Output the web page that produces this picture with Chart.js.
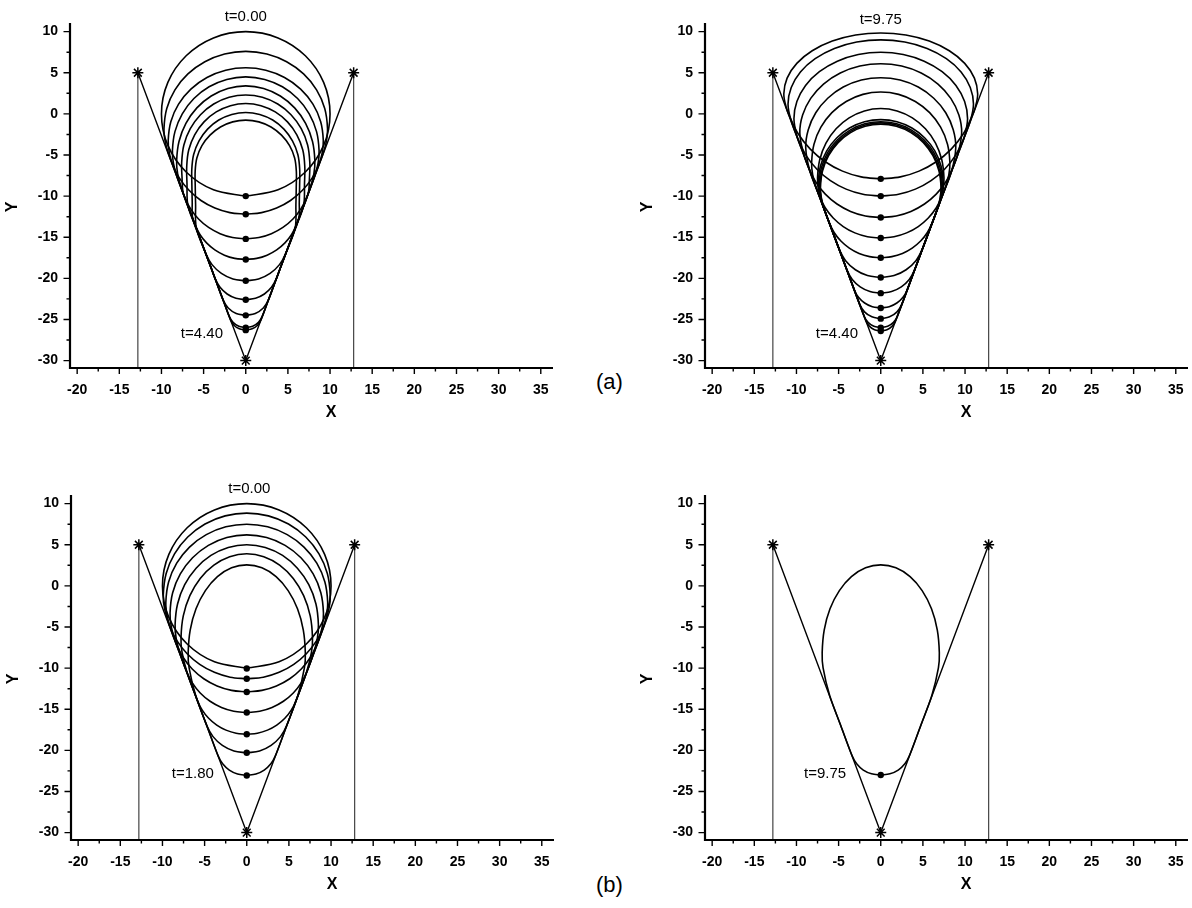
<!DOCTYPE html>
<html>
<head>
<meta charset="utf-8">
<script src="https://cdn.jsdelivr.net/npm/chart.js@4.4.0/dist/chart.umd.min.js"></script>
<style>
  body { margin: 0; width: 1192px; height: 908px; background: #fff; position: relative; overflow: hidden;
         font-family: "Liberation Sans", Arial, sans-serif; }
  canvas { position: absolute; }
  .tag { position: absolute; font-size: 22px; color: #000; }
</style>
</head>
<body>
<canvas id="c1" width="568" height="427" style="left:0px;top:1px"></canvas>
<canvas id="c2" width="568" height="427" style="left:635px;top:1px"></canvas>
<canvas id="c3" width="568" height="427" style="left:1px;top:473px"></canvas>
<canvas id="c4" width="568" height="427" style="left:635px;top:473px"></canvas>
<div class="tag" style="left:596px;top:369px">(a)</div>
<div class="tag" style="left:596px;top:872px">(b)</div>
<script>
// axis ranges (same for all four panels)
const xMin = -20.85, xMax = 36.45;
const yMin = -30.9, yMax = 11.05;

// funnel walls and the three marked corners
const postX = [-12.8, -12.8, null, 12.8, 12.8];
const postY = [yMin, 5, null, 5, yMin];
const funnelX = [-12.8, 0, 12.8];
const funnelY = [5, -30, 5];
const starX = [-12.8, 12.8, 0];
const starY = [5, 5, -30];

// loop shapes, right half only (x >= 0), top point first, bottom point last
// (a) left: t = 0.00 ... 4.40
const loopsA1 = [
  [[0,10],[3.83,9.24],[7.07,7.07],[9.24,3.83],[10,0],[9.24,-3.83],[7.07,-7.07],[3.83,-9.24],[0,-10]],
  [[0,7.6],[2.51,7.28],[4.85,6.34],[6.86,4.86],[8.4,2.92],[9.37,0.66],[9.7,-1.77],[9.55,-3.4],[9.15,-4.88],[8.69,-6.11],[7.87,-7.81],[6.73,-9.29],[5.31,-10.53],[3.66,-11.45],[1.88,-12.01],[0,-12.2]],
  [[0,5.6],[2.38,5.3],[4.6,4.42],[6.51,3.01],[7.97,1.18],[8.89,-0.95],[9.2,-3.24],[9.06,-4.77],[8.68,-6.16],[7.95,-8.15],[7.23,-10.14],[6.54,-11.55],[5.6,-12.78],[4.41,-13.81],[3.04,-14.57],[1.56,-15.04],[0,-15.2]],
  [[0,4.5],[2.25,4.19],[4.35,3.3],[6.15,1.87],[7.53,0.01],[8.4,-2.16],[8.7,-4.49],[8.57,-6.05],[8.15,-7.66],[7.08,-10.58],[6.0,-13.5],[5.44,-14.67],[4.65,-15.69],[3.67,-16.54],[2.53,-17.18],[1.3,-17.57],[0,-17.7]],
  [[0,3.4],[2.12,3.09],[4.1,2.18],[5.8,0.73],[7.1,-1.16],[7.92,-3.36],[8.2,-5.72],[8.08,-7.3],[7.6,-9.14],[6.65,-11.75],[5.7,-14.35],[4.74,-16.98],[4.0,-18.33],[2.89,-19.39],[1.52,-20.07],[0,-20.3]],
  [[0,2.3],[1.97,2.02],[3.8,1.2],[5.37,-0.1],[6.58,-1.8],[7.34,-3.78],[7.6,-5.9],[7.56,-7.7],[7.4,-9.7],[6.3,-12.7],[5.2,-15.73],[4.1,-18.75],[3.62,-20.07],[3.05,-21.09],[2.21,-21.9],[1.16,-22.42],[0,-22.6]],
  [[0,1.26],[1.81,1.0],[3.5,0.24],[4.95,-0.97],[6.06,-2.54],[6.76,-4.37],[7.0,-6.34],[6.97,-8.5],[6.85,-11.2],[5.75,-14.22],[4.65,-17.24],[3.55,-20.25],[2.69,-22.62],[2.08,-23.6],[1.13,-24.27],[0,-24.5]],
  [[0,0.17],[1.66,-0.07],[3.2,-0.75],[4.53,-1.85],[5.54,-3.28],[6.18,-4.94],[6.4,-6.73],[6.39,-8.7],[6.35,-10.7],[6.28,-12.75],[5.2,-15.73],[4.1,-18.75],[3.0,-21.76],[1.95,-24.63],[1.51,-25.35],[0.82,-25.83],[0,-26.0]],
  [[0,-0.76],[1.55,-0.97],[3.0,-1.59],[4.24,-2.58],[5.2,-3.86],[5.8,-5.36],[6.0,-6.96],[5.99,-9.0],[5.95,-11.0],[5.86,-13.9],[4.7,-17.1],[3.55,-20.25],[2.55,-23.0],[1.81,-25.04],[1.4,-25.7],[0.76,-26.14],[0,-26.3]]
];
const dotsA1 = [-10, -12.2, -15.2, -17.7, -20.3, -22.6, -24.5, -26.0, -26.3];

// (a) right: t = 4.40 ... 9.75
const loopsA2 = [
  [[0,9.84],[2.98,9.59],[5.75,8.85],[8.13,7.67],[9.96,6.14],[11.11,4.35],[11.5,2.43],[11.2,0.74],[10.8,-0.34],[9.78,-2.45],[8.36,-4.29],[6.59,-5.82],[4.54,-6.96],[2.33,-7.66],[0,-7.9]],
  [[0,9.0],[2.85,8.73],[5.5,7.95],[7.78,6.71],[9.53,5.1],[10.62,3.21],[11.0,1.19],[10.65,-0.77],[9.77,-3.16],[8.85,-5.07],[7.57,-6.73],[5.97,-8.12],[4.11,-9.15],[2.11,-9.78],[0,-10.0]],
  [[0,7.5],[2.67,7.22],[5.15,6.41],[7.28,5.13],[8.92,3.46],[9.95,1.5],[10.3,-0.59],[9.91,-2.82],[9.2,-4.75],[8.5,-6.65],[7.69,-8.31],[6.58,-9.76],[5.19,-10.96],[3.58,-11.86],[1.83,-12.41],[0,-12.6]],
  [[0,6.1],[2.48,5.81],[4.8,4.97],[6.79,3.63],[8.31,1.89],[9.27,-0.15],[9.6,-2.33],[9.14,-4.9],[8.21,-7.45],[7.28,-10.0],[6.59,-11.42],[5.64,-12.66],[4.45,-13.7],[3.07,-14.47],[1.57,-14.94],[0,-15.1]],
  [[0,4.4],[2.3,4.11],[4.45,3.26],[6.29,1.9],[7.71,0.14],[8.6,-1.92],[8.9,-4.13],[8.41,-6.94],[7.26,-10.07],[6.11,-13.22],[5.53,-14.42],[4.73,-15.46],[3.73,-16.32],[2.57,-16.97],[1.32,-17.36],[0,-17.5]],
  [[0,2.66],[2.12,2.37],[4.1,1.51],[5.8,0.15],[7.1,-1.62],[7.92,-3.69],[8.2,-5.91],[8.08,-7.4],[7.66,-8.96],[6.75,-11.47],[5.84,-13.97],[4.93,-16.45],[4.17,-17.85],[3.01,-18.95],[1.58,-19.66],[0,-19.9]],
  [[0,0.65],[1.94,0.36],[3.75,-0.48],[5.3,-1.81],[6.5,-3.55],[7.24,-5.58],[7.5,-7.76],[7.39,-9.22],[6.94,-10.94],[5.96,-13.64],[4.98,-16.33],[4.0,-19.0],[3.38,-20.13],[2.44,-21.03],[1.28,-21.6],[0,-21.8]],
  [[0,-0.7],[1.92,-0.96],[3.7,-1.72],[5.23,-2.93],[6.41,-4.5],[7.15,-6.34],[7.4,-8.31],[7.29,-9.63],[6.93,-10.98],[5.66,-14.46],[4.4,-17.92],[3.13,-21.41],[2.64,-22.3],[1.91,-23.0],[1.0,-23.45],[0,-23.6]],
  [[0,-0.95],[1.89,-1.21],[3.65,-1.97],[5.16,-3.18],[6.32,-4.75],[7.05,-6.59],[7.3,-8.56],[7.19,-9.88],[6.82,-11.26],[5.4,-15.17],[3.95,-19.16],[2.49,-23.16],[1.93,-24.07],[1.05,-24.68],[0,-24.9]],
  [[0,-1.1],[1.86,-1.36],[3.6,-2.13],[5.09,-3.35],[6.24,-4.94],[6.95,-6.8],[7.2,-8.79],[7.09,-10.13],[6.71,-11.58],[5.1,-16.0],[3.5,-20.4],[1.95,-24.63],[1.51,-25.35],[0.82,-25.83],[0,-26.0]],
  [[0,-1.25],[1.85,-1.51],[3.58,-2.28],[5.06,-3.5],[6.19,-5.09],[6.91,-6.94],[7.15,-8.93],[7.04,-10.26],[6.66,-11.73],[5.0,-16.28],[3.4,-20.67],[1.76,-25.17],[1.36,-25.81],[0.74,-26.25],[0,-26.4]]
];
const dotsA2 = [-7.9, -10.0, -12.6, -15.1, -17.5, -19.9, -21.8, -23.6, -24.9, -26.0, -26.4];

// (b) left: t = 0.00 ... 1.80
const loopsB1 = [
  [[0,10],[3.83,9.24],[7.07,7.07],[9.24,3.83],[10,0],[9.24,-3.83],[7.07,-7.07],[3.83,-9.24],[0,-10]],
  [[0,8.85],[2.56,8.51],[4.95,7.52],[7.0,5.94],[8.57,3.89],[9.56,1.5],[9.9,-1.07],[9.75,-2.79],[9.13,-4.9],[8.27,-6.69],[7.07,-8.25],[5.58,-9.54],[3.84,-10.51],[1.97,-11.1],[0,-11.3]],
  [[0,7.5],[2.48,7.18],[4.8,6.23],[6.79,4.72],[8.31,2.76],[9.27,0.47],[9.6,-1.99],[9.45,-3.64],[9.03,-5.21],[8.35,-7.05],[7.56,-8.68],[6.47,-10.11],[5.1,-11.29],[3.52,-12.17],[1.8,-12.71],[0,-12.9]],
  [[0,6.2],[2.36,5.88],[4.55,4.93],[6.43,3.42],[7.88,1.46],[8.79,-0.83],[9.1,-3.28],[8.96,-4.93],[8.51,-6.64],[7.82,-8.53],[7.13,-10.41],[6.46,-11.8],[5.52,-13.02],[4.35,-14.03],[3.0,-14.78],[1.54,-15.24],[0,-15.4]],
  [[0,5.0],[2.2,4.67],[4.25,3.7],[6.01,2.15],[7.36,0.14],[8.21,-2.2],[8.5,-4.72],[8.37,-6.41],[7.84,-8.46],[6.84,-11.22],[5.84,-13.96],[5.28,-15.1],[4.52,-16.1],[3.56,-16.93],[2.46,-17.54],[1.26,-17.92],[0,-18.05]],
  [[0,3.9],[2.02,3.55],[3.9,2.53],[5.52,0.91],[6.75,-1.19],[7.53,-3.65],[7.8,-6.29],[7.68,-8.06],[7.04,-10.67],[5.89,-13.83],[4.74,-16.98],[4.0,-18.33],[2.89,-19.39],[1.52,-20.07],[0,-20.3]],
  [[0,2.55],[1.8,2.19],[3.48,1.12],[4.91,-0.58],[6.02,-2.79],[6.71,-5.37],[6.95,-8.13],[6.84,-9.98],[6.06,-13.34],[4.73,-17.0],[3.39,-20.67],[2.86,-21.64],[2.07,-22.4],[1.09,-22.88],[0,-23.05]]
];
const dotsB1 = [-10.05, -11.3, -12.9, -15.4, -18.05, -20.3, -23.05];

// (b) right: t = 9.75
const loopsB2 = [
  [[0,2.55],[1.8,2.19],[3.48,1.12],[4.91,-0.58],[6.02,-2.79],[6.71,-5.37],[6.95,-8.13],[6.84,-9.98],[6.06,-13.34],[4.73,-17.0],[3.39,-20.67],[2.86,-21.64],[2.07,-22.4],[1.09,-22.85],[0,-23.0]]
];
const dotsB2 = [-23.0];

// time labels
const notesA1 = [{text: 't=0.00', x: 0, y: 11.8}, {text: 't=4.40', x: -5.2, y: -26.7}];
const notesA2 = [{text: 't=9.75', x: 0, y: 11.4}, {text: 't=4.40', x: -5.2, y: -26.8}];
const notesB1 = [{text: 't=0.00', x: 0.3, y: 11.8}, {text: 't=1.80', x: -6.4, y: -22.9}];
const notesB2 = [{text: 't=9.75', x: -6.6, y: -22.8}];

const FONT = '"Liberation Sans", Arial, sans-serif';

function pts(xs, ys) {
  return xs.map((v, i) => ({x: v, y: ys[i]}));
}

// mirror the right half to get a closed loop that starts and ends at the bottom point
function closedLoop(half) {
  const left = half.slice().reverse().map(p => ({x: -p[0], y: p[1]}));
  const right = half.slice(1).map(p => ({x: p[0], y: p[1]}));
  return left.concat(right);
}

const decor = {
  id: 'decor',
  afterDraw(chart, args, opts) {
    const ctx = chart.ctx, a = chart.chartArea;
    const xs = chart.scales.x, ys = chart.scales.y;
    ctx.save();
    ctx.strokeStyle = '#000';
    ctx.lineWidth = 1.4;
    ctx.beginPath();
    xs.ticks.forEach(t => {
      const p = xs.getPixelForValue(t.value);
      const len = t.value % 5 === 0 ? 6 : 3.5;
      ctx.moveTo(p, a.bottom); ctx.lineTo(p, a.bottom + len);
    });
    ys.ticks.forEach(t => {
      const p = ys.getPixelForValue(t.value);
      const len = t.value % 5 === 0 ? 6.5 : 3.5;
      ctx.moveTo(a.left, p); ctx.lineTo(a.left - len, p);
    });
    ctx.stroke();
    ctx.lineWidth = 2.2;
    ctx.beginPath();
    ctx.moveTo(a.left, a.top); ctx.lineTo(a.left, a.bottom); ctx.lineTo(a.right, a.bottom);
    ctx.stroke();

    ctx.fillStyle = '#000';
    ctx.textAlign = 'center';
    ctx.textBaseline = 'middle';
    ctx.font = 'bold 16px ' + FONT;
    ctx.fillText('X', a.left + 261, a.bottom + 45);
    ctx.save();
    ctx.translate(a.left - 57, a.top + 184);
    ctx.rotate(-Math.PI / 2);
    ctx.fillText('Y', 0, 0);
    ctx.restore();

    ctx.font = '15px ' + FONT;
    opts.notes.forEach(n => ctx.fillText(n.text, xs.getPixelForValue(n.x), ys.getPixelForValue(n.y)));
    ctx.restore();
  }
};

function makePanel(id, loops, dots, notes) {
  const datasets = [];
  datasets.push({data: pts(starX, starY), showLine: false, pointStyle: 'star', pointRadius: 5.5,
                 borderColor: '#000', borderWidth: 1.5});
  datasets.push({data: dots.map(v => ({x: 0, y: v})), showLine: false, pointRadius: 3.2,
                 backgroundColor: '#000', borderWidth: 0});
  loops.forEach(h => datasets.push({data: closedLoop(h), showLine: true, tension: 0.34,
                 borderColor: '#000', borderWidth: 1.6, pointRadius: 0}));
  datasets.push({data: pts(funnelX, funnelY), showLine: true, tension: 0,
                 borderColor: '#000', borderWidth: 1.4, pointRadius: 0});
  datasets.push({data: pts(postX, postY), showLine: true, tension: 0, spanGaps: false,
                 borderColor: '#444', borderWidth: 1.2, pointRadius: 0});

  new Chart(document.getElementById(id), {
    type: 'scatter',
    data: {datasets: datasets},
    options: {
      responsive: false,
      animation: false,
      events: [],
      layout: {padding: {left: 0, top: 22, right: 15, bottom: 0}},
      plugins: {legend: {display: false}, tooltip: {enabled: false}, decor: {notes: notes}},
      scales: {
        x: {
          type: 'linear', min: xMin, max: xMax,
          grid: {display: false, drawTicks: false},
          border: {display: false},
          ticks: {stepSize: 2.5, includeBounds: false, autoSkip: false, maxRotation: 0, padding: 14,
                  color: '#000', font: {family: FONT, size: 14, weight: 'bold'},
                  callback: v => (v % 5 === 0 ? String(v) : '')},
          afterFit(s) { s.height = 60; }
        },
        y: {
          type: 'linear', min: yMin, max: yMax,
          grid: {display: false, drawTicks: false},
          border: {display: false},
          ticks: {stepSize: 2.5, includeBounds: false, autoSkip: false, padding: 12,
                  color: '#000', font: {family: FONT, size: 14, weight: 'bold'},
                  callback: v => (v % 5 === 0 ? String(v) : '')},
          afterFit(s) { s.width = 70; }
        }
      }
    },
    plugins: [decor]
  });
}

makePanel('c1', loopsA1, dotsA1, notesA1);
makePanel('c2', loopsA2, dotsA2, notesA2);
makePanel('c3', loopsB1, dotsB1, notesB1);
makePanel('c4', loopsB2, dotsB2, notesB2);
</script>
</body>
</html>
